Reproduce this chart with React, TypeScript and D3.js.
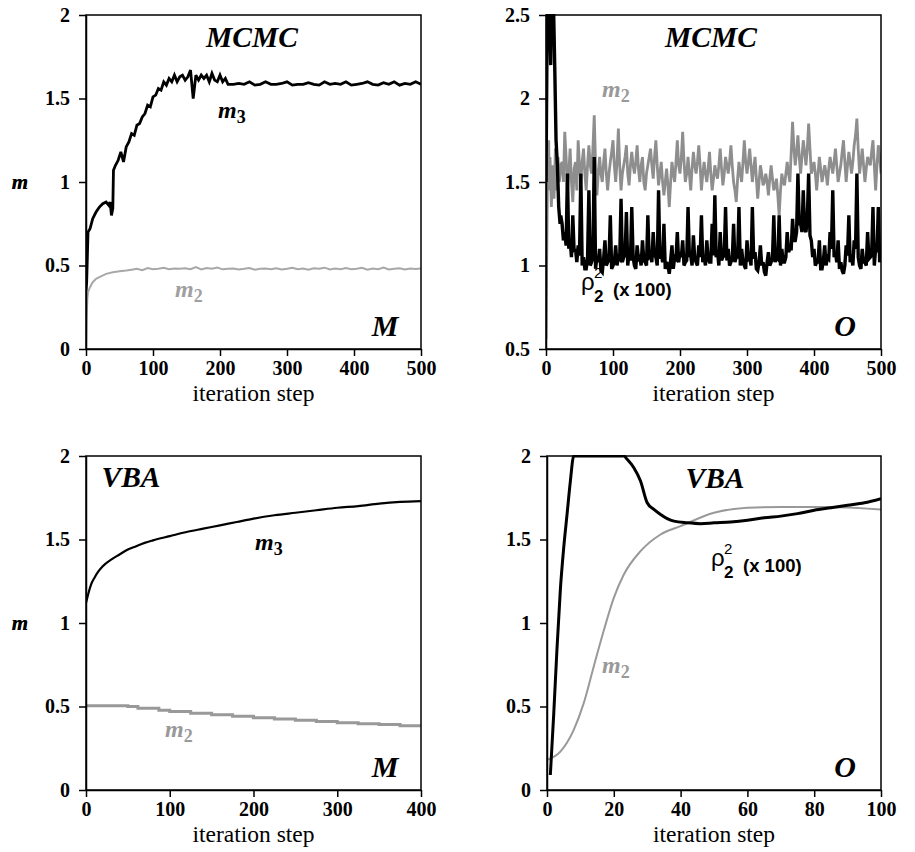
import { useEffect, useRef } from "react";
import * as d3 from "d3";

type Pt = [number, number];

// ---- MCMC, model M ----
const m3McmcHead: Pt[] = [
  [0, 0.35], [1, 0.4], [2, 0.55], [3, 0.7], [6, 0.72], [10, 0.78], [15, 0.82],
  [20, 0.85], [25, 0.87], [30, 0.88], [34, 0.86], [36, 0.88], [38, 0.8], [40, 0.84], [41, 1.07],
];
// steps 44..212, every 4
const m3McmcRise = [
  1.1, 1.13, 1.18, 1.12, 1.21, 1.24, 1.29, 1.28, 1.34, 1.35,
  1.39, 1.41, 1.46, 1.45, 1.51, 1.52, 1.56, 1.55, 1.6, 1.58,
  1.62, 1.6, 1.64, 1.6, 1.63, 1.64, 1.61, 1.63, 1.67, 1.5,
  1.64, 1.61, 1.64, 1.62, 1.64, 1.6, 1.65, 1.61, 1.6, 1.64,
  1.6, 1.62, 1.585,
];
// steps 220..500, every 8
const m3McmcFlat = [
  1.585, 1.59, 1.585, 1.6, 1.58, 1.585, 1.6, 1.585, 1.585, 1.59,
  1.6, 1.58, 1.585, 1.585, 1.595, 1.585, 1.58, 1.6, 1.585, 1.59,
  1.585, 1.6, 1.58, 1.585, 1.59, 1.6, 1.585, 1.58, 1.595, 1.585,
  1.6, 1.58, 1.59, 1.585, 1.6, 1.585,
];
const m2McmcHead: Pt[] = [
  [0, 0], [1, 0.2], [2, 0.3], [3, 0.34], [6, 0.37], [10, 0.4], [15, 0.42],
  [20, 0.43], [30, 0.45], [40, 0.46], [50, 0.465], [60, 0.47],
];
// steps 68..500, every 8
const m2McmcTail = [
  0.475, 0.48, 0.472, 0.485, 0.478, 0.48, 0.486, 0.478, 0.482, 0.48,
  0.484, 0.478, 0.49, 0.476, 0.485, 0.48, 0.488, 0.477, 0.48, 0.482,
  0.476, 0.48, 0.485, 0.475, 0.48, 0.482, 0.478, 0.484, 0.476, 0.48,
  0.486, 0.478, 0.482, 0.475, 0.484, 0.48, 0.487, 0.476, 0.482, 0.478,
  0.485, 0.478, 0.48, 0.486, 0.475, 0.482, 0.478, 0.488, 0.476, 0.48,
  0.484, 0.476, 0.482, 0.479, 0.482,
];

// ---- MCMC, model O ----
const rhoMcmcHead: Pt[] = [
  [0, 1.5], [2, 2.6], [5, 2.55], [7, 2.2], [8, 2.6], [11, 2.6], [13, 2.2],
  [15, 1.75], [17, 1.6], [19, 1.35], [21, 1.25], [22, 1.3],
];
// steps 24..500, every 4
const rhoMcmcBody = [
  1.25, 1.2, 1.55, 1.15, 1.3, 1.1, 1.12, 1.55, 1.05, 0.98,
  1.45, 1.02, 1.65, 1.05, 1.1, 0.96, 1.15, 1.02, 1.3, 1.0,
  1.12, 1.05, 1.4, 1.05, 1.32, 1.08, 1.35, 1.0, 1.12, 1.05,
  1.15, 1.02, 1.3, 1.06, 1.2, 1.05, 1.45, 1.08, 1.25, 1.02,
  0.95, 1.12, 1.05, 1.2, 1.08, 1.15, 1.02, 1.35, 1.06, 1.18,
  1.02, 1.12, 1.3, 1.05, 1.15, 1.02, 1.25, 1.42, 1.08, 1.2,
  1.05, 1.35, 1.1, 1.02, 1.25, 1.05, 1.35, 1.1, 1.0, 1.15,
  1.05, 1.35, 1.08, 0.97, 1.12, 1.02, 0.94, 1.08, 1.02, 1.3,
  1.05, 1.3, 1.1, 1.02, 1.2, 1.1, 1.28, 1.15, 1.55, 1.25,
  1.45, 1.2, 1.55, 1.15, 1.1, 1.02, 1.15, 0.98, 1.12, 1.05,
  1.2, 1.45, 1.08, 1.15, 1.02, 0.95, 1.12, 1.3, 1.05, 1.15,
  1.55, 1.0, 1.1, 1.02, 1.2, 1.05, 1.35, 1.1, 1.35, 1.05,
];
// steps 26..498, every 4: the lower edge of the dense band
const rhoMcmcMid = [
  1.15, 1.12, 1.1, 1.05, 1.08, 1.02, 1.06, 1.0, 0.98, 1.04,
  1.0, 1.05, 0.98, 1.02, 0.97, 1.04, 1.0, 1.03, 0.98, 1.02,
  1.0, 1.04, 1.02, 1.06, 1.0, 1.03, 1.05, 0.98, 1.04, 1.0,
  1.03, 1.0, 1.05, 1.02, 1.06, 1.0, 1.04, 1.02, 0.98, 1.0,
  1.03, 0.98, 1.04, 1.02, 1.05, 1.0, 1.03, 1.06, 1.0, 1.04,
  1.0, 1.05, 1.02, 1.0, 1.04, 1.02, 1.06, 1.05, 1.0, 1.03,
  1.06, 1.03, 1.0, 1.04, 1.02, 1.05, 1.0, 1.02, 0.98, 1.04,
  1.0, 1.04, 0.98, 1.02, 1.0, 0.96, 1.02, 1.0, 1.04, 1.02,
  1.04, 1.0, 1.02, 1.05, 1.08, 1.1, 1.15, 1.2, 1.25, 1.2,
  1.22, 1.28, 1.18, 1.05, 1.0, 1.02, 0.98, 1.03, 1.0, 1.04,
  1.1, 1.05, 1.02, 0.98, 0.97, 1.0, 1.06, 1.02, 1.0, 1.1,
  1.05, 0.98, 1.02, 1.0, 1.04, 1.06, 1.0, 1.08, 1.02,
];
const m2McmcOHead: Pt[] = [
  [0, 0.56], [1, 1.0], [2, 1.45], [3, 1.6], [4, 1.75], [5, 1.45], [6, 1.65],
  [8, 1.35], [10, 1.6], [12, 1.4], [14, 1.7], [16, 1.45], [18, 1.65], [20, 1.5], [22, 1.6],
];
// steps 24..500, every 4
const m2McmcOBody = [
  1.62, 1.8, 1.45, 1.7, 1.38, 1.62, 1.75, 1.5, 1.7, 1.45,
  1.72, 1.55, 1.9, 1.42, 1.65, 1.5, 1.7, 1.45, 1.62, 1.75,
  1.5, 1.82, 1.45, 1.6, 1.72, 1.48, 1.68, 1.55, 1.72, 1.5,
  1.65, 1.45, 1.6, 1.7, 1.52, 1.75, 1.48, 1.62, 1.42, 1.58,
  1.35, 1.62, 1.5, 1.75, 1.55, 1.8, 1.5, 1.65, 1.45, 1.68,
  1.55, 1.72, 1.45, 1.62, 1.5, 1.68, 1.45, 1.6, 1.52, 1.7,
  1.48, 1.65, 1.55, 1.72, 1.5, 1.38, 1.62, 1.5, 1.75, 1.55,
  1.7, 1.5, 1.65, 1.4, 1.6, 1.48, 1.55, 1.42, 1.6, 1.45,
  1.52, 1.3, 1.55, 1.48, 1.62, 1.5, 1.86, 1.6, 1.78, 1.55,
  1.75, 1.6, 1.85, 1.55, 1.62, 1.45, 1.65, 1.5, 1.6, 1.48,
  1.65, 1.55, 1.7, 1.5, 1.6, 1.75, 1.5, 1.68, 1.55, 1.72,
  1.88, 1.55, 1.7, 1.5, 1.65, 1.6, 1.75, 1.45, 1.72, 1.55,
];
// steps 26..498, every 4
const m2McmcOMid = [
  1.5, 1.65, 1.55, 1.5, 1.58, 1.45, 1.6, 1.62, 1.55, 1.6,
  1.6, 1.7, 1.6, 1.55, 1.55, 1.62, 1.55, 1.55, 1.68, 1.6,
  1.62, 1.6, 1.55, 1.65, 1.55, 1.6, 1.6, 1.62, 1.58, 1.6,
  1.5, 1.55, 1.65, 1.6, 1.65, 1.6, 1.55, 1.5, 1.5, 1.48,
  1.5, 1.55, 1.62, 1.6, 1.65, 1.62, 1.55, 1.55, 1.58, 1.6,
  1.62, 1.6, 1.55, 1.55, 1.58, 1.55, 1.52, 1.55, 1.6, 1.58,
  1.55, 1.6, 1.62, 1.6, 1.45, 1.52, 1.55, 1.62, 1.62, 1.62,
  1.6, 1.58, 1.52, 1.5, 1.55, 1.5, 1.5, 1.52, 1.52, 1.48,
  1.42, 1.45, 1.5, 1.55, 1.55, 1.68, 1.7, 1.68, 1.65, 1.65,
  1.68, 1.7, 1.7, 1.58, 1.55, 1.55, 1.58, 1.55, 1.55, 1.58,
  1.6, 1.62, 1.6, 1.55, 1.68, 1.62, 1.6, 1.62, 1.62, 1.78,
  1.7, 1.62, 1.6, 1.58, 1.62, 1.68, 1.6, 1.6, 1.65,
];

// ---- VBA, model M ----
const m3Vba: Pt[] = [
  [0, 1.12], [3, 1.18], [6, 1.23], [10, 1.27], [15, 1.31], [20, 1.34], [30, 1.38],
  [40, 1.41], [50, 1.44], [60, 1.46], [70, 1.48], [80, 1.495], [100, 1.52], [120, 1.545],
  [140, 1.565], [160, 1.585], [180, 1.605], [200, 1.625], [225, 1.645], [250, 1.66],
  [275, 1.675], [300, 1.69], [325, 1.7], [350, 1.715], [375, 1.725], [400, 1.73],
];
const m2Vba: Pt[] = [
  [0, 0.505], [50, 0.5], [62, 0.49], [87, 0.478], [100, 0.47], [125, 0.46], [150, 0.45],
  [175, 0.442], [200, 0.432], [225, 0.425], [250, 0.418], [275, 0.41], [300, 0.402],
  [325, 0.397], [350, 0.392], [375, 0.385], [400, 0.383],
];

// ---- VBA, model O ----
const rhoVba: Pt[] = [
  [1, 0.09], [2, 0.45], [3, 0.85], [4, 1.2], [5, 1.45], [6, 1.65], [7, 1.85], [8, 2.0],
  [23, 2.0], [24, 1.98], [26, 1.93], [28, 1.85], [30, 1.72], [32, 1.68], [34, 1.65],
  [36, 1.625], [38, 1.61], [42, 1.6], [46, 1.595], [50, 1.6], [55, 1.605], [60, 1.615],
  [65, 1.63], [70, 1.64], [75, 1.655], [80, 1.675], [85, 1.69], [90, 1.705], [95, 1.72], [100, 1.745],
];
const m2VbaO: Pt[] = [
  [0, 0.18], [4, 0.23], [8, 0.36], [11, 0.52], [14, 0.74], [17, 0.955], [20, 1.15],
  [23, 1.29], [28, 1.43], [34, 1.53], [40, 1.58], [50, 1.66], [60, 1.69], [70, 1.695],
  [84, 1.695], [100, 1.68],
];

const ticks500 = [0, 100, 200, 300, 400, 500];
const ticks400 = [0, 100, 200, 300, 400];
const ticks100 = [0, 20, 40, 60, 80, 100];
const ticksM = [0, 0.5, 1, 1.5, 2];
const ticksO = [0.5, 1, 1.5, 2, 2.5];

const sampled = (start: number, step: number, values: number[]): Pt[] =>
  values.map((v, i) => [start + i * step, v] as Pt);

// merge two regularly sampled runs into one series ordered by step
const interleave = (a: Pt[], b: Pt[]): Pt[] =>
  a.concat(b).sort((p, q) => p[0] - q[0]);

const SERIF = "'Liberation Serif', 'Times New Roman', serif";
const SANS = "'Liberation Sans', Arial, sans-serif";
const GRAY = "#999";

type Series = { points: Pt[]; color: string; width: number; curve?: d3.CurveFactory };
type Panel = {
  left: number; top: number; width: number; height: number;
  xDomain: [number, number]; yDomain: [number, number];
  xTicks: number[]; yTicks: number[];
  series: Series[];
  title: string; titleX: number; titleY: number;
  model: string;
  mLabel?: { x: number; y: number; sub: string; color: string }[];
  rho?: { x: number; y: number };
};

export default function App() {
  const svgRef = useRef<SVGSVGElement>(null);

  useEffect(() => {
    const panels: Panel[] = [
      {
        left: 86, top: 15, width: 335, height: 334,
        xDomain: [0, 500], yDomain: [0, 2], xTicks: ticks500, yTicks: ticksM,
        series: [
          { points: m2McmcHead.concat(sampled(68, 8, m2McmcTail)), color: "#a8a8a8", width: 2 },
          {
            points: m3McmcHead.concat(sampled(44, 4, m3McmcRise), sampled(220, 8, m3McmcFlat)),
            color: "#000", width: 2.8,
          },
        ],
        title: "MCMC", titleX: 252, titleY: 47, model: "M",
        mLabel: [
          { x: 218, y: 118, sub: "3", color: "#000" },
          { x: 175, y: 297, sub: "2", color: "#a0a0a0" },
        ],
      },
      {
        left: 546, top: 15, width: 335, height: 334,
        xDomain: [0, 500], yDomain: [0.5, 2.5], xTicks: ticks500, yTicks: ticksO,
        series: [
          {
            points: m2McmcOHead.concat(interleave(sampled(24, 4, m2McmcOBody), sampled(26, 4, m2McmcOMid))),
            color: "#8e8e8e", width: 2.8,
          },
          {
            points: rhoMcmcHead.concat(interleave(sampled(24, 4, rhoMcmcBody), sampled(26, 4, rhoMcmcMid))),
            color: "#000", width: 3.4,
          },
        ],
        title: "MCMC", titleX: 711, titleY: 47, model: "O",
        mLabel: [{ x: 602, y: 97, sub: "2", color: GRAY }],
        rho: { x: 581, y: 290 },
      },
      {
        left: 86, top: 456, width: 335, height: 334,
        xDomain: [0, 400], yDomain: [0, 2], xTicks: ticks400, yTicks: ticksM,
        series: [
          { points: m2Vba, color: GRAY, width: 3, curve: d3.curveStepAfter },
          { points: m3Vba, color: "#000", width: 2.2, curve: d3.curveMonotoneX },
        ],
        title: "VBA", titleX: 131, titleY: 487, model: "M",
        mLabel: [
          { x: 255, y: 550, sub: "3", color: "#000" },
          { x: 165, y: 737, sub: "2", color: GRAY },
        ],
      },
      {
        left: 547, top: 456, width: 334, height: 334,
        xDomain: [0, 100], yDomain: [0, 2], xTicks: ticks100, yTicks: ticksM,
        series: [
          { points: m2VbaO, color: GRAY, width: 2, curve: d3.curveMonotoneX },
          { points: rhoVba, color: "#000", width: 3, curve: d3.curveMonotoneX },
        ],
        title: "VBA", titleX: 715, titleY: 488, model: "O",
        mLabel: [{ x: 602, y: 673, sub: "2", color: GRAY }],
        rho: { x: 711, y: 566 },
      },
    ];

    const svg = d3.select(svgRef.current);
    svg.selectAll("*").remove();

    panels.forEach((p, k) => {
      const x = d3.scaleLinear().domain(p.xDomain).range([p.left, p.left + p.width]);
      const y = d3.scaleLinear().domain(p.yDomain).range([p.top + p.height, p.top]);
      const g = svg.append("g");

      // clip the curves to the frame
      const clipId = `clip-${k}`;
      g.append("clipPath")
        .attr("id", clipId)
        .append("rect")
        .attr("x", p.left)
        .attr("y", p.top - 1)
        .attr("width", p.width)
        .attr("height", p.height + 1);

      const lines = g.append("g").attr("clip-path", `url(#${clipId})`);
      p.series.forEach((s) => {
        const gen = d3
          .line<Pt>()
          .x((d) => x(d[0]))
          .y((d) => y(d[1]))
          .curve(s.curve ?? d3.curveLinear);
        lines
          .append("path")
          .datum(s.points)
          .attr("d", gen)
          .attr("fill", "none")
          .attr("stroke", s.color)
          .attr("stroke-width", s.width)
          .attr("stroke-linejoin", "miter")
          .attr("stroke-miterlimit", 3);
      });

      // frame
      g.append("rect")
        .attr("x", p.left)
        .attr("y", p.top)
        .attr("width", p.width)
        .attr("height", p.height)
        .attr("fill", "none")
        .attr("stroke", "#000")
        .attr("stroke-width", 1.5);

      // axes
      const xAxis = d3
        .axisBottom(x)
        .tickValues(p.xTicks)
        .tickFormat(d3.format("d"))
        .tickSize(7)
        .tickSizeOuter(0)
        .tickPadding(5);
      const yAxis = d3
        .axisLeft(y)
        .tickValues(p.yTicks)
        .tickFormat((d) => String(d))
        .tickSize(7)
        .tickSizeOuter(0)
        .tickPadding(9);

      [g.append("g").attr("transform", `translate(0, ${p.top + p.height})`).call(xAxis),
       g.append("g").attr("transform", `translate(${p.left}, 0)`).call(yAxis)].forEach((ax) => {
        ax.select(".domain").attr("stroke-width", 1.5);
        ax.selectAll(".tick line").attr("stroke-width", 1.5);
        ax.selectAll("text")
          .attr("font-family", SERIF)
          .attr("font-weight", "bold")
          .attr("font-size", 20)
          .attr("fill", "#000");
      });

      // axis titles
      g.append("text")
        .attr("x", p.left + p.width / 2)
        .attr("y", p.top + p.height + 52)
        .attr("text-anchor", "middle")
        .attr("font-family", SERIF)
        .attr("font-size", 23.5)
        .text("iteration step");
      g.append("text")
        .attr("x", 20)
        .attr("y", p.top + p.height / 2 + 7)
        .attr("text-anchor", "middle")
        .attr("font-family", SERIF)
        .attr("font-style", "italic")
        .attr("font-weight", "bold")
        .attr("font-size", 21)
        .text("m");

      // method title and model letter
      g.append("text")
        .attr("x", p.titleX)
        .attr("y", p.titleY)
        .attr("text-anchor", "middle")
        .attr("font-family", SERIF)
        .attr("font-style", "italic")
        .attr("font-weight", "bold")
        .attr("font-size", 29.5)
        .text(p.title);
      g.append("text")
        .attr("x", p.left + p.width - 36)
        .attr("y", p.top + p.height - 13)
        .attr("text-anchor", "middle")
        .attr("font-family", SERIF)
        .attr("font-style", "italic")
        .attr("font-weight", "bold")
        .attr("font-size", 30)
        .text(p.model);

      // curve labels
      (p.mLabel ?? []).forEach((l) => {
        const t = g
          .append("text")
          .attr("x", l.x)
          .attr("y", l.y)
          .attr("font-family", SERIF)
          .attr("font-weight", "bold")
          .attr("fill", l.color);
        t.append("tspan").attr("font-style", "italic").attr("font-size", 24).text("m");
        t.append("tspan").attr("font-size", 18).attr("dy", 5).text(l.sub);
      });

      if (p.rho) {
        const r = p.rho;
        g.append("text")
          .attr("x", r.x)
          .attr("y", r.y)
          .attr("font-family", SANS)
          .attr("font-size", 24)
          .text("ρ");
        g.append("text")
          .attr("x", r.x + 13)
          .attr("y", r.y - 12)
          .attr("font-family", SANS)
          .attr("font-size", 15)
          .text("2");
        g.append("text")
          .attr("x", r.x + 13)
          .attr("y", r.y + 12)
          .attr("font-family", SANS)
          .attr("font-weight", "bold")
          .attr("font-size", 17)
          .text("2");
        g.append("text")
          .attr("x", r.x + 32)
          .attr("y", r.y + 6)
          .attr("font-family", SANS)
          .attr("font-weight", "bold")
          .attr("font-size", 18.5)
          .text("(x 100)");
      }
    });
  }, []);

  return (
    <svg
      ref={svgRef}
      width={915}
      height={852}
      style={{ position: "absolute", left: 0, top: 0, background: "#fff" }}
    />
  );
}
